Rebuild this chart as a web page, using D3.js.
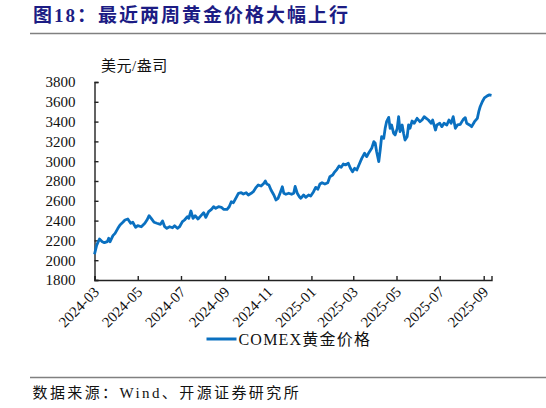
<!DOCTYPE html>
<html>
<head>
<meta charset="utf-8">
<script src="https://cdn.jsdelivr.net/npm/d3@7"></script>
<style>
    body { margin: 0; background: #fff; }
    svg { display: block; }
    .serif { font-family: "Liberation Serif", "Times New Roman", "Noto Sans CJK SC", serif; }
</style>
</head>
<body>
<script>
// Chart data
var dates = [
    "2024-03-01", "2024-03-04", "2024-03-08", "2024-03-12", "2024-03-15",
    "2024-03-19", "2024-03-21", "2024-03-23", "2024-03-27", "2024-03-30",
    "2024-04-03", "2024-04-06", "2024-04-10", "2024-04-13", "2024-04-17",
    "2024-04-21", "2024-04-24", "2024-04-28", "2024-05-01", "2024-05-06",
    "2024-05-11", "2024-05-14", "2024-05-17", "2024-05-20", "2024-05-24",
    "2024-05-28", "2024-06-02", "2024-06-05", "2024-06-08", "2024-06-11",
    "2024-06-15", "2024-06-19", "2024-06-22", "2024-06-26", "2024-06-29",
    "2024-07-03", "2024-07-06", "2024-07-10", "2024-07-12", "2024-07-15",
    "2024-07-18", "2024-07-21", "2024-07-25", "2024-07-28", "2024-08-02",
    "2024-08-05", "2024-08-09", "2024-08-13", "2024-08-16", "2024-08-19",
    "2024-08-23", "2024-08-27", "2024-08-30", "2024-09-04", "2024-09-07",
    "2024-09-10", "2024-09-13", "2024-09-17", "2024-09-20", "2024-09-24",
    "2024-09-27", "2024-10-01", "2024-10-04", "2024-10-08", "2024-10-11",
    "2024-10-15", "2024-10-18", "2024-10-22", "2024-10-26", "2024-10-28",
    "2024-10-30", "2024-11-02", "2024-11-05", "2024-11-09", "2024-11-12",
    "2024-11-15", "2024-11-18", "2024-11-21", "2024-11-23", "2024-11-26",
    "2024-11-30", "2024-12-04", "2024-12-07", "2024-12-09", "2024-12-12",
    "2024-12-15", "2024-12-17", "2024-12-21", "2024-12-24", "2024-12-28",
    "2024-12-31", "2025-01-04", "2025-01-07", "2025-01-10", "2025-01-13",
    "2025-01-16", "2025-01-20", "2025-01-24", "2025-01-27", "2025-01-31",
    "2025-02-02", "2025-02-06", "2025-02-09", "2025-02-12", "2025-02-15",
    "2025-02-18", "2025-02-22", "2025-02-25", "2025-02-28", "2025-03-03",
    "2025-03-06", "2025-03-09", "2025-03-13", "2025-03-17", "2025-03-20",
    "2025-03-23", "2025-03-27", "2025-03-30", "2025-04-01", "2025-04-03",
    "2025-04-06", "2025-04-08", "2025-04-10", "2025-04-13", "2025-04-15",
    "2025-04-17", "2025-04-20", "2025-04-22", "2025-04-24", "2025-04-27",
    "2025-04-29", "2025-05-02", "2025-05-04", "2025-05-06", "2025-05-09",
    "2025-05-11", "2025-05-13", "2025-05-16", "2025-05-18", "2025-05-20",
    "2025-05-23", "2025-05-26", "2025-05-30", "2025-06-03", "2025-06-06",
    "2025-06-09", "2025-06-12", "2025-06-15", "2025-06-19", "2025-06-21",
    "2025-06-25", "2025-06-27", "2025-07-01", "2025-07-04", "2025-07-07",
    "2025-07-11", "2025-07-14", "2025-07-17", "2025-07-20", "2025-07-23",
    "2025-07-26", "2025-07-30", "2025-08-03", "2025-08-06", "2025-08-08",
    "2025-08-12", "2025-08-15", "2025-08-19", "2025-08-23", "2025-08-25",
    "2025-08-27", "2025-08-30", "2025-09-02", "2025-09-06", "2025-09-09",
    "2025-09-12"
];

var prices = [
    2060, 2150, 2214, 2187, 2177, 2187, 2221, 2187, 2248, 2271,
    2322, 2356, 2383, 2406, 2416, 2373, 2383, 2332, 2349, 2338,
    2373, 2406, 2449, 2423, 2383, 2373, 2362, 2396, 2338, 2322,
    2338, 2328, 2349, 2322, 2338, 2389, 2406, 2440, 2423, 2497,
    2423, 2449, 2416, 2440, 2480, 2433, 2490, 2514, 2540, 2524,
    2540, 2534, 2514, 2514, 2540, 2591, 2581, 2635, 2676, 2682,
    2669, 2682, 2659, 2676, 2692, 2736, 2760, 2749, 2777, 2800,
    2770, 2760, 2709, 2659, 2608, 2625, 2682, 2742, 2676, 2666,
    2676, 2666, 2676, 2745, 2676, 2641, 2625, 2659, 2635, 2659,
    2648, 2692, 2736, 2716, 2770, 2783, 2770, 2783, 2843, 2860,
    2884, 2918, 2951, 2938, 2972, 2962, 2979, 2928, 2894, 2928,
    2911, 2962, 3029, 3080, 3046, 3086, 3130, 3197, 3181, 3096,
    2995, 3113, 3247, 3231, 3332, 3399, 3443, 3332, 3366, 3282,
    3265, 3332, 3450, 3298, 3366, 3282, 3214, 3247, 3366, 3332,
    3406, 3383, 3433, 3399, 3416, 3450, 3433, 3416, 3383, 3416,
    3315, 3366, 3383, 3349, 3383, 3366, 3416, 3383, 3450, 3332,
    3366, 3373, 3420, 3440, 3383, 3366, 3349, 3399, 3433, 3500,
    3550, 3601, 3640, 3660, 3670, 3665
];

var yTicks = [1800, 2000, 2200, 2400, 2600, 2800, 3000, 3200, 3400, 3600, 3800];
var seriesName = "COMEX黄金价格";

var W = 546, H = 408;
var plot = {left: 94.5, right: 491.5, top: 82, bottom: 280};
var blue = "#0a70c0";

var parse = d3.timeParse("%Y-%m-%d");
var data = dates.map(function(d, i) { return {date: parse(d), value: prices[i]}; });

var svg = d3.select("body").append("svg")
    .attr("width", W)
    .attr("height", H);

//Title and rules
svg.append("text")
    .attr("x", 33)
    .attr("y", 15)
    .attr("dy", "0.35em")
    .attr("fill", "#1c1c84")
    .attr("font-weight", "bold")
    .attr("font-size", 19)
    .attr("letter-spacing", 2)
    .attr("class", "serif")
    .text("图18：最近两周黄金价格大幅上行");

svg.append("line")
    .attr("x1", 30).attr("x2", W)
    .attr("y1", 33.5).attr("y2", 33.5)
    .attr("stroke", "#808080").attr("stroke-width", 1.5);

svg.append("line")
    .attr("x1", 30).attr("x2", W)
    .attr("y1", 377.5).attr("y2", 377.5)
    .attr("stroke", "#808080").attr("stroke-width", 1.5);

svg.append("text")
    .attr("x", 32.5)
    .attr("y", 393)
    .attr("dy", "0.35em")
    .attr("font-size", 15)
    .attr("letter-spacing", 2.4)
    .attr("class", "serif")
    .attr("fill", "#111")
    .text("数据来源：Wind、开源证券研究所");

//Scales
var x = d3.scaleTime()
    .domain(d3.extent(data, function(d) { return d.date; }))
    .range([plot.left, plot.right]);

var y = d3.scaleLinear()
    .domain([1800, 3800])
    .range([plot.bottom, plot.top]);

//Axes
var yAxis = d3.axisLeft(y)
    .tickValues(yTicks)
    .tickSize(-4)
    .tickPadding(19)
    .tickFormat(d3.format("d"));

var gy = svg.append("g")
    .attr("transform", "translate(" + plot.left + ",0)")
    .call(yAxis);

var xAxis = d3.axisBottom(x)
    .ticks(d3.timeMonth.every(2))
    .tickSize(-4)
    .tickFormat(d3.timeFormat("%Y-%m"));

var gx = svg.append("g")
    .attr("transform", "translate(0," + plot.bottom + ")")
    .call(xAxis);

[gx, gy].forEach(function(g) {
    g.select(".domain").attr("stroke", "#222").attr("stroke-width", 1.4);
    g.selectAll(".tick line").attr("stroke", "#222").attr("stroke-width", 1.4);
    g.selectAll("text")
        .attr("class", "serif")
        .attr("font-size", 15)
        .attr("fill", "#111");
});

gx.selectAll(".tick text")
    .attr("text-anchor", "end")
    .attr("dy", null)
    .attr("y", 0)
    .attr("transform", "translate(5,13) rotate(-45)");

//Unit label
svg.append("text")
    .attr("x", 101)
    .attr("y", 66)
    .attr("dy", "0.35em")
    .attr("font-size", 15)
    .attr("letter-spacing", 0.5)
    .attr("class", "serif")
    .attr("fill", "#111")
    .text("美元/盎司");

//Price line
var line = d3.line()
    .x(function(d) { return x(d.date); })
    .y(function(d) { return y(d.value); });

svg.append("path")
    .datum(data)
    .attr("fill", "none")
    .attr("stroke", blue)
    .attr("stroke-width", 2.8)
    .attr("stroke-linejoin", "round")
    .attr("d", line);

//Legend
var legend = svg.append("g")
    .attr("transform", "translate(206.5,339)");

legend.append("line")
    .attr("x1", 0).attr("x2", 30)
    .attr("stroke", blue)
    .attr("stroke-width", 3);

legend.append("text")
    .attr("x", 32)
    .attr("dy", "0.35em")
    .attr("font-size", 16)
    .attr("letter-spacing", 1.2)
    .attr("class", "serif")
    .attr("fill", "#111")
    .text(seriesName);
</script>
</body>
</html>
